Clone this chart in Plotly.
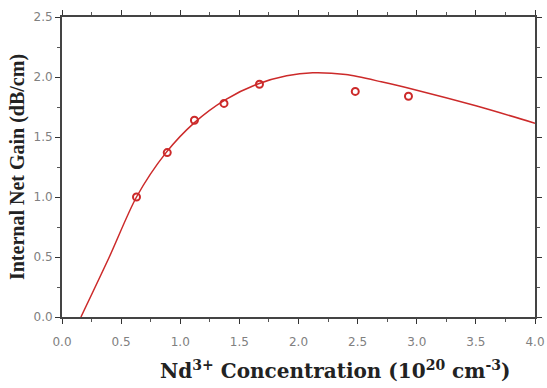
import plotly.graph_objects as go

# measured data points
conc = [0.63, 0.89, 1.12, 1.37, 1.67, 2.48, 2.93]
gain = [1.00, 1.37, 1.64, 1.78, 1.94, 1.88, 1.84]

# fitted curve
curve_x = [0.16, 0.40, 0.63, 0.88, 1.12, 1.38, 1.65, 1.9, 2.12, 2.4, 2.7, 3.0, 3.5, 4.0]
curve_y = [0.00, 0.50, 1.00, 1.37, 1.62, 1.81, 1.94, 2.01, 2.035, 2.02, 1.96, 1.89, 1.76, 1.615]

x_ticks = [0.0, 0.5, 1.0, 1.5, 2.0, 2.5, 3.0, 3.5, 4.0]
y_ticks = [0.0, 0.5, 1.0, 1.5, 2.0, 2.5]

red = "#cc2a2a"
fig = go.Figure()
fig.add_trace(go.Scatter(x=curve_x, y=curve_y, mode="lines",
                         line=dict(color=red, width=1.5, shape="spline", smoothing=0.8),
                         showlegend=False))
fig.add_trace(go.Scatter(x=conc, y=gain, mode="markers",
                         marker=dict(symbol="circle-open", size=7, color=red, line=dict(width=2)),
                         showlegend=False))

tickfont = dict(family="DejaVu Sans", size=12, color="#808080")
fig.update_layout(
    width=547, height=388,
    margin=dict(l=62, r=12, t=17, b=71),
    plot_bgcolor="white", paper_bgcolor="white",
    xaxis=dict(range=[0, 4.0], tickvals=x_ticks, ticktext=[f"{v:.1f}" for v in x_ticks],
               showgrid=False, zeroline=False, showline=True, linecolor="#444444", linewidth=2,
               mirror="ticks", ticks="outside", ticklen=5, tickcolor="#333333",
               minor=dict(dtick=0.25, ticks="outside", ticklen=3, tickcolor="#555555"),
               tickfont=tickfont, automargin=False, ticklabelstandoff=8),
    yaxis=dict(range=[0, 2.5], tickvals=y_ticks, ticktext=[f"{v:.1f}" for v in y_ticks],
               showgrid=False, zeroline=False, showline=True, linecolor="#444444", linewidth=2,
               mirror="ticks", ticks="outside", ticklen=5, tickcolor="#333333",
               minor=dict(dtick=0.25, ticks="outside", ticklen=3, tickcolor="#555555"),
               tickfont=tickfont, automargin=False,
               title=dict(text="<b>Internal Net Gain (dB/cm)</b>",
                          font=dict(family="Liberation Serif", size=20, color="#222222"), standoff=4)),
    annotations=[dict(text="<b>Nd<sup>3+</sup> Concentration (10<sup>20</sup> cm<sup>-3</sup>)</b>",
                      xref="paper", yref="paper", x=0.579, y=-0.177,
                      xanchor="center", yanchor="middle", showarrow=False,
                      font=dict(family="DejaVu Serif", size=20, color="#222222"))],
)
fig.write_html("out.html")
